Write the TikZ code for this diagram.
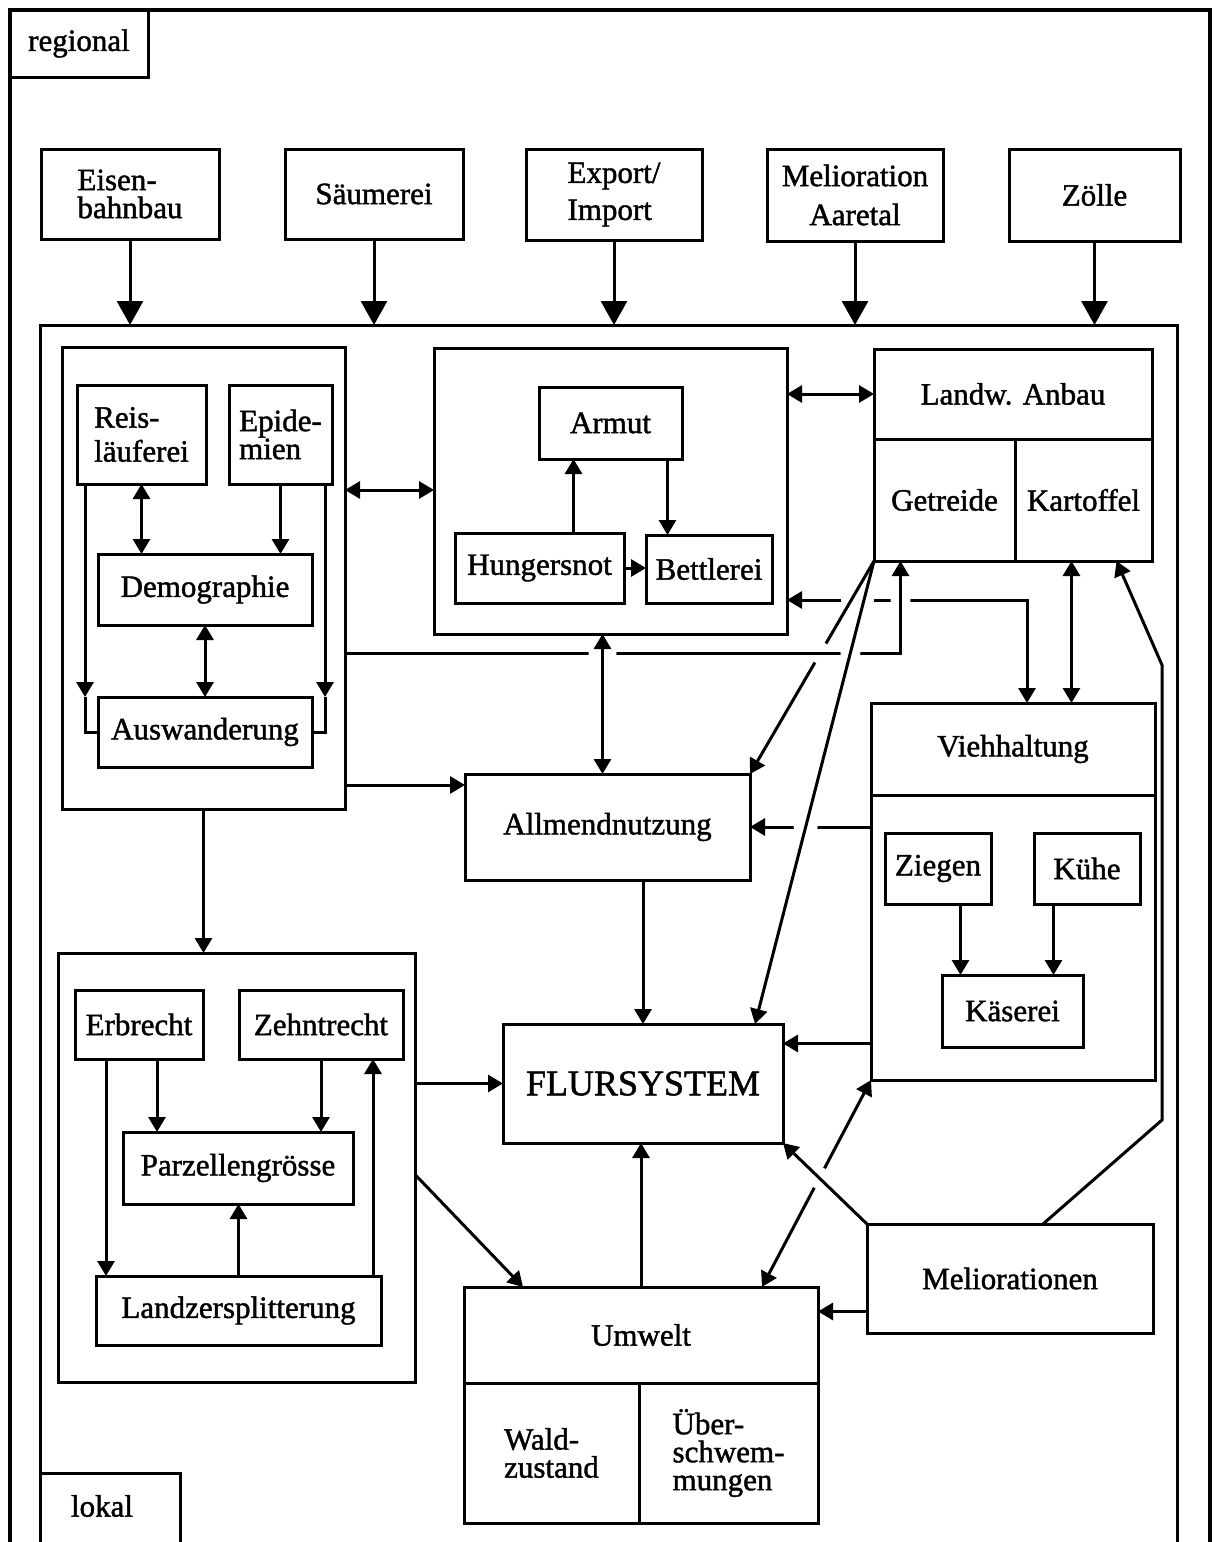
\documentclass[tikz,border=0pt]{standalone}
\usepackage{fontspec}
\setmainfont{Liberation Serif}[FakeBold=1.4]
\usetikzlibrary{arrows.meta}
\newcommand\bx[7][]{\node[box,minimum width={(#5)-(#3)},minimum height={(#6)-(#4)},#1] (#2) at ({((#3)+(#5))/2},{((#4)+(#6))/2}) {#7};}
\tikzset{
 box/.style={draw, line width=3pt, inner sep=0pt, outer sep=0pt, align=center, font=\fontsize{31}{28}\selectfont},
 ln/.style={line width=3pt},
 arr/.style={ln, -{Triangle[width=17pt,length=15pt]}},
 darr/.style={ln, {Triangle[width=17pt,length=15pt]}-{Triangle[width=17pt,length=15pt]}},
 bigarr/.style={ln, -{Triangle[width=26pt,length=24pt]}},
 gap/.style={fill=white},
}
\begin{document}
\begin{tikzpicture}[x=1pt,y=-1pt]
\useasboundingbox (0,0) rectangle (1213,1542);
\clip (0,0) rectangle (1213,1542);
\fill[white] (0,0) rectangle (1213,1542);
% frames
\draw[line width=3.2pt] (10,1600) -- (10,10) -- (1210,10) -- (1210,1600);
\bx{reg}{10}{10}{148}{77}{regional}
\bx{area}{40}{325}{1177}{1600}{}
\bx{lokalbox}{40}{1473}{180}{1600}{}
\node[font=\fontsize{31}{28}\selectfont] (lokal) at (102,1506) {lokal};
% top boxes
\bx[align=left]{eisen}{41}{149}{219}{239}{Eisen-\\bahnbau}
\bx{saum}{285}{149}{463}{239}{Säumerei}
\bx[align=left]{export}{526}{149}{702}{240}{Export/\\[9pt]Import}
\bx{melaare}{767}{149}{943}{241}{Melioration\\[11pt]Aaretal}
\bx{zoelle}{1009}{149}{1180}{241}{Zölle}
% demography group
\bx{demogrp}{62}{347}{345}{809}{}
\bx[align=left]{reis}{77}{385}{206}{484}{Reis-\\[6pt]läuferei}
\bx[align=left]{epid}{229}{385}{332}{484}{Epide-\\mien}
\bx{demog}{98}{554}{312}{625}{Demographie}
\bx{ausw}{98}{697}{312}{767}{Auswanderung}
% poverty group
\bx{armgrp}{434}{348}{787}{634}{}
\bx{armut}{539}{387}{682}{459}{Armut}
\bx{hunger}{455}{533}{624}{603}{Hungersnot}
\bx{bettl}{646}{535}{772}{603}{Bettlerei}
% agriculture
\bx{landw}{874}{349}{1152}{439}{Landw. Anbau}
\bx{getreide}{874}{439}{1015}{561}{Getreide}
\bx{kartoffel}{1015}{439}{1152}{561}{Kartoffel}
% allmend
\bx{allmend}{465}{774}{750}{880}{Allmendnutzung}
% livestock
\bx{viehtop}{871}{703}{1155}{795}{Viehhaltung}
\bx{viehbody}{871}{795}{1155}{1080}{}
\bx{ziegen}{885}{833}{991}{904}{Ziegen}
\bx{kuehe}{1034}{833}{1140}{904}{Kühe}
\bx{kaese}{942}{975}{1083}{1047}{Käserei}
% flursystem
\bx[font=\fontsize{36}{36}\selectfont]{flur}{503}{1024}{783}{1143}{FLURSYSTEM}
% lower group
\bx{lowgrp}{58}{953}{415}{1382}{}
\bx{erb}{75}{990}{203}{1059}{Erbrecht}
\bx{zehnt}{239}{990}{403}{1059}{Zehntrecht}
\bx{parz}{123}{1132}{353}{1204}{Parzellengrösse}
\bx{landz}{96}{1276}{381}{1345}{Landzersplitterung}
% environment
\bx{umwelt}{464}{1287}{818}{1383}{Umwelt}
\bx[align=left]{wald}{464}{1383}{639}{1523}{Wald-\\zustand}
\bx[align=left]{ueber}{639}{1383}{818}{1523}{Über-\\schwem-\\mungen}
\bx{melior}{867}{1224}{1153}{1333}{Meliorationen}

% top arrows
\foreach \n in {eisen,saum,export,melaare,zoelle}
  \draw[bigarr] (\n.south) -- (\n.south |- area.north);

% demography inner
\draw[darr] (reis.south) -- (reis.south |- demog.north);
\draw[arr] (epid.south) -- (epid.south |- demog.north);
\draw[darr] (demog.south) -- (demog.south |- ausw.north);
\coordinate (r1) at ([xshift=8pt]reis.south west);
\draw[arr] (r1) -- (r1 |- ausw.north);
\draw[ln] (r1 |- ausw.north) -- (r1 |- ausw.west) -- (ausw.west);
\coordinate (e2) at ([xshift=-7pt]epid.south east);
\draw[arr] (e2) -- (e2 |- ausw.north);
\draw[ln] (e2 |- ausw.north) -- (e2 |- ausw.east) -- (ausw.east);

% demogrp links
\coordinate (d1) at ([yshift=88pt]demogrp.east);
\draw[darr] (d1) -- (d1 -| armgrp.west);
\coordinate (d2) at ([yshift=-207pt]demogrp.east);
\draw[arr] (d2) -- (d2 -| allmend.west);
\draw[arr] (demogrp.south) -- (demogrp.south |- lowgrp.north);

% poverty inner
\coordinate (a1) at ([xshift=-37pt]armut.south);
\draw[arr] (a1 |- hunger.north) -- (a1);
\coordinate (a2) at ([xshift=57pt]armut.south);
\draw[arr] (a2) -- (a2 |- bettl.north);
\draw[arr] (hunger.east) -- (hunger.east -| bettl.west);

% poverty <-> agriculture
\draw[darr] (landw.west -| armgrp.east) -- (landw.west);

% poverty <-> livestock (y=600)
\coordinate (h1) at ([yshift=-109pt]armgrp.east);
\coordinate (h2) at ([xshift=14pt]viehtop.north);
\draw[darr] (h1) -| (h2);
\fill[gap] (851,600) circle[radius=10pt];
\fill[gap] (864,600) circle[radius=10pt];
\fill[gap] (900.5,600) circle[radius=10pt];

% kartoffel <-> livestock
\coordinate (k1) at ([xshift=-12pt]kartoffel.south);
\draw[darr] (k1) -- (k1 |- viehtop.north);

% getreide -> allmend
\draw[arr] (getreide.south west) -- (allmend.north east);
\fill[gap] (820.4,653) circle[radius=11pt];

% demogrp -> getreide (y=653)
\coordinate (g1) at ([yshift=-75pt]demogrp.east);
\coordinate (g2) at ([xshift=-44pt]getreide.south);
\draw[arr] (g1) -| (g2);
\fill[gap] (850.4,653) circle[radius=10pt];
\fill[gap] (602.5,653) circle[radius=14pt];

% poverty <-> allmend
\coordinate (v1) at ([xshift=-5pt]allmend.north);
\draw[darr] (v1 |- armgrp.south) -- (v1);

% livestock -> allmend
\draw[arr] (allmend.east -| viehbody.west) -- (allmend.east);
\fill[gap] (805.6,827) circle[radius=12pt];

% getreide -> flursystem
\coordinate (f2) at ([xshift=-28pt]flur.north east);
\draw[arr] (getreide.south west) -- (f2);

% allmend -> flursystem
\draw[arr] (flur.north |- allmend.south) -- (flur.north);

% livestock inner
\coordinate (z2) at ([xshift=-52pt]kaese.north);
\draw[arr] (z2 |- ziegen.south) -- (z2);
\coordinate (z3) at ([xshift=41pt]kaese.north);
\draw[arr] (z3 |- kuehe.south) -- (z3);

% livestock -> flursystem
\coordinate (f1) at ([yshift=40pt]flur.east);
\draw[arr] (f1 -| viehbody.west) -- (f1);

% livestock <-> umwelt
\coordinate (u1) at ([xshift=-56pt]umwelt.north east);
\draw[darr] (viehbody.south west) -- (u1);
\fill[gap] (819.3,1178) circle[radius=11pt];

% meliorationen links
\draw[arr] (melior.north west) -- (flur.south east);
\coordinate (m1) at ([yshift=-33pt]melior.west);
\draw[arr] (m1) -- (m1 -| umwelt.east);
\coordinate (m2) at ([xshift=33pt]melior.north);
\coordinate (c1) at (1162,1120);
\coordinate (c2) at (1162,665);
\coordinate (k2) at ([xshift=33pt]kartoffel.south);
\draw[arr] (m2) -- (c1) -- (c2) -- (k2);

% umwelt -> flursystem
\draw[arr] (umwelt.north) -- (umwelt.north |- flur.south);

% lower group links
\draw[arr] (flur.west -| lowgrp.east) -- (flur.west);
\coordinate (l1) at ([yshift=-7pt]lowgrp.east);
\coordinate (u2) at ([xshift=59pt]umwelt.north west);
\draw[arr] (l1) -- (u2);

% lower inner
\coordinate (e1) at ([xshift=-33pt]erb.south);
\draw[arr] (e1) -- (e1 |- landz.north);
\coordinate (e3) at ([xshift=18pt]erb.south);
\draw[arr] (e3) -- (e3 |- parz.north);
\draw[arr] (zehnt.south) -- (zehnt.south |- parz.north);
\draw[arr] (landz.north) -- (landz.north |- parz.south);
\coordinate (z1) at ([xshift=52pt]zehnt.south);
\draw[arr] (z1 |- landz.north) -- (z1);
\end{tikzpicture}
\end{document}
